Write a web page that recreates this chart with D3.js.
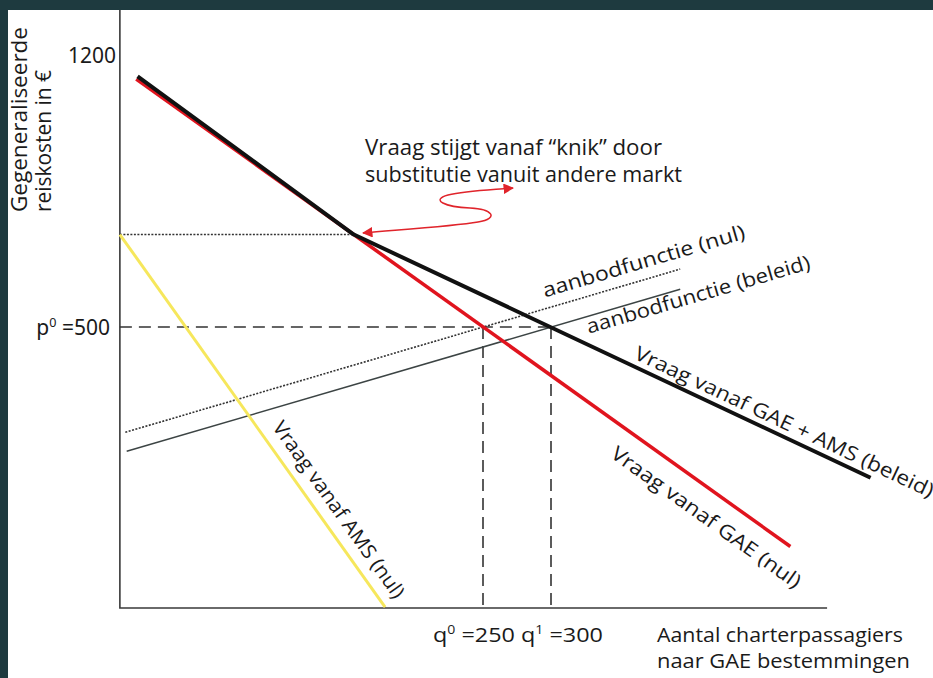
<!DOCTYPE html>
<html>
<head>
<meta charset="utf-8">
<script src="https://cdn.jsdelivr.net/npm/d3@7"></script>
<style>
  body { margin: 0; background: #fff; }
  svg { display: block; }
  text { font-family: "Open Sans", "Noto Sans", sans-serif; fill: #1a1a1a; }
</style>
</head>
<body>
<svg id="chart" width="933" height="678"></svg>
<script>
// Schematic market: price (generalised travel cost) vs quantity (charter passengers)
const qAnchor = [250, 300];          // q0, q1
const pAnchor = [500, 1200];         // p0, top tick
const axisQ = [-17, 503];
const axisP = [-223, 1316];

const demandGAE = [[-5, 1138], [476, -65]];
const demandTotal = [[-4, 1145], [155, 738], [535, 112]];
const demandAMS = [[-17, 738], [178, -221]];
const supplyNul = [[-13, 229], [395, 649]];
const supplyBeleid = [[-12, 180], [395, 597]];
const kink = [155, 738];
const eqPrice = 500;
const eqQuantities = [250, 300];

const qLabels = [["q", "0", " =250"], ["q", "1", " =300"]];
const pLabel = ["p", "0", " =500"];
const topTick = "1200";
const yTitle = ["Gegeneraliseerde", "reiskosten in €"];
const xTitle = ["Aantal charterpassagiers", "naar GAE bestemmingen"];
const note = ["Vraag stijgt vanaf “knik” door", "substitutie vanuit andere markt"];

const svg = d3.select("#chart");
const x = d3.scaleLinear().domain(qAnchor).range([483, 551]);
const y = d3.scaleLinear().domain(pAnchor).range([327, 55]);
const line = d3.line().x(d => x(d[0])).y(d => y(d[1]));

// frame
svg.append("rect").attr("width", 933).attr("height", 678).attr("fill", "#1e3a3f");
svg.append("rect").attr("x", 8).attr("y", 10).attr("width", 925).attr("height", 668).attr("fill", "#fff");

// axes
svg.append("path")
    .attr("d", line([[axisQ[0], axisP[1]], [axisQ[0], axisP[0]], [axisQ[1], axisP[0]]]))
    .attr("fill", "none").attr("stroke", "#3a3a3a").attr("stroke-width", 1.6);

// guide lines
const dash = "12,7";
svg.append("path")
    .attr("d", line([[axisQ[0], eqPrice], [eqQuantities[1], eqPrice]]))
    .attr("fill", "none").attr("stroke", "#333").attr("stroke-width", 1.6)
    .attr("stroke-dasharray", dash);
eqQuantities.forEach(q => {
    svg.append("path")
        .attr("d", line([[q, eqPrice], [q, axisP[0]]]))
        .attr("fill", "none").attr("stroke", "#333").attr("stroke-width", 1.6)
        .attr("stroke-dasharray", dash);
});
svg.append("path")
    .attr("d", line([[axisQ[0], kink[1]], kink]))
    .attr("fill", "none").attr("stroke", "#333").attr("stroke-width", 1.6)
    .attr("stroke-dasharray", "2,1.5");

// supply
svg.append("path").attr("d", line(supplyNul))
    .attr("fill", "none").attr("stroke", "#333").attr("stroke-width", 1.6).attr("stroke-dasharray", "2,1.5");
svg.append("path").attr("d", line(supplyBeleid))
    .attr("fill", "none").attr("stroke", "#3c4444").attr("stroke-width", 1.5);

// demand
svg.append("path").attr("d", line(demandAMS))
    .attr("fill", "none").attr("stroke", "#f6e75c").attr("stroke-width", 3);
svg.append("path").attr("d", line(demandGAE))
    .attr("fill", "none").attr("stroke", "#e0141e").attr("stroke-width", 3.5);
svg.append("path").attr("d", line(demandTotal))
    .attr("fill", "none").attr("stroke", "#111").attr("stroke-width", 4).attr("stroke-linejoin", "round");

// annotation arrow (red squiggle)
const defs = svg.append("defs");
["start", "end"].forEach(id => {
    defs.append("marker").attr("id", "arrow-" + id)
        .attr("viewBox", "0 0 10 10").attr("refX", 9).attr("refY", 5)
        .attr("markerWidth", 7).attr("markerHeight", 7)
        .attr("orient", id === "start" ? "auto-start-reverse" : "auto")
        .append("path").attr("d", "M0,0 L10,5 L0,10 z").attr("fill", "#e0242b");
});
svg.append("path")
    .attr("d", "M363,233 C410,229 455,226 478,222 C500,218 492,209 470,208 C445,207 430,200 448,195 C465,191 490,190 513,188")
    .attr("fill", "none").attr("stroke", "#e0242b").attr("stroke-width", 1.5)
    .attr("marker-start", "url(#arrow-start)").attr("marker-end", "url(#arrow-end)");

// text helpers
function supText(sel, parts, size) {
    sel.append("tspan").text(parts[0]);
    sel.append("tspan").attr("font-size", size * 0.6).attr("dy", -size * 0.4).text(parts[1]);
    sel.append("tspan").attr("dy", size * 0.4).text(parts[2]);
}

svg.append("text").attr("x", 116).attr("y", 63).attr("text-anchor", "end")
    .attr("font-size", 21).style("font-family", "'Noto Sans', sans-serif").text(topTick);
supText(svg.append("text").attr("x", 110).attr("y", 335).attr("text-anchor", "end")
    .attr("font-size", 21).style("font-family", "'Noto Sans', sans-serif"), pLabel, 21);

const qt = svg.append("text").attr("x", 433).attr("y", 642).attr("font-size", 20)
    .attr("textLength", 170).attr("lengthAdjust", "spacingAndGlyphs");
supText(qt, qLabels[0], 20);
qt.append("tspan").text(" ");
supText(qt, qLabels[1], 20);

const xTitleLen = [246, 253];
xTitle.forEach((t, i) => svg.append("text").attr("x", 657).attr("y", 642 + i * 26)
    .attr("font-size", 20).attr("textLength", xTitleLen[i]).attr("lengthAdjust", "spacingAndGlyphs").text(t));
const yTitleLen = [185, 142];
yTitle.forEach((t, i) => svg.append("text")
    .attr("transform", `translate(${27 + i * 24},212) rotate(-90)`)
    .attr("font-size", 21).attr("textLength", yTitleLen[i]).attr("lengthAdjust", "spacingAndGlyphs").text(t));
const noteLen = [297, 317];
note.forEach((t, i) => svg.append("text").attr("x", 365).attr("y", 155 + i * 27)
    .attr("font-size", 21).attr("textLength", noteLen[i]).attr("lengthAdjust", "spacingAndGlyphs").text(t));

// labels set along their lines: start at screen x on the line, shifted perpendicular
const lineLabels = [
    { text: "aanbodfunctie (nul)", seg: supplyNul, atX: 548, offset: 11, len: 210 },
    { text: "aanbodfunctie (beleid)", seg: supplyBeleid, atX: 584, offset: -17, len: 232 },
    { text: "Vraag vanaf GAE + AMS (beleid)", seg: demandTotal.slice(1), atX: 630, offset: 7, len: 328 },
    { text: "Vraag vanaf GAE (nul)", seg: demandGAE, atX: 628, offset: -32, len: 228 },
    { text: "Vraag vanaf AMS (nul)", seg: demandAMS, atX: 262, offset: 12, len: 212 }
];
lineLabels.forEach(l => {
    const [a, b] = l.seg.map(d => [x(d[0]), y(d[1])]);
    const th = Math.atan2(b[1] - a[1], b[0] - a[0]);
    const py = a[1] + (l.atX - a[0]) * (b[1] - a[1]) / (b[0] - a[0]);
    const tx = l.atX + l.offset * Math.sin(th);
    const ty = py - l.offset * Math.cos(th);
    svg.append("text")
        .attr("transform", `translate(${tx},${ty}) rotate(${th * 180 / Math.PI})`)
        .attr("font-size", 20).attr("textLength", l.len).attr("lengthAdjust", "spacingAndGlyphs")
        .text(l.text);
});
</script>
</body>
</html>
